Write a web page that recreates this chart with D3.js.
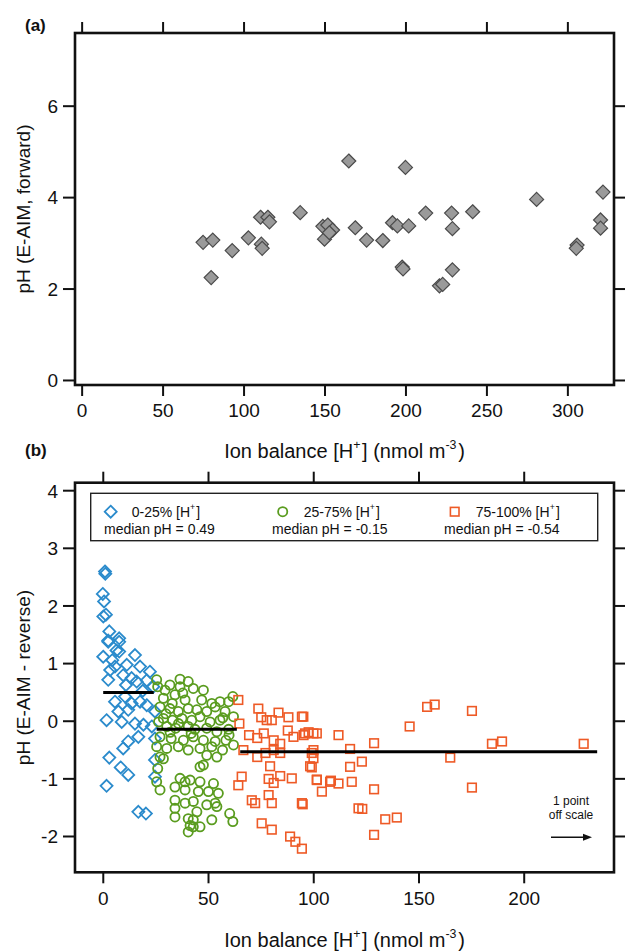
<!DOCTYPE html>
<html>
<head>
<meta charset="utf-8">
<script src="https://cdn.jsdelivr.net/npm/d3@7"></script>
<style>
  body { margin: 0; background: #fff; }
  svg { font-family: "Liberation Sans", Arial, sans-serif; }
</style>
</head>
<body>
<svg id="chart" width="625" height="951"></svg>
<script>
// panel (a): ion balance vs forward pH
const fwdX = [75, 81, 80, 93, 103, 111, 111.5, 110.5, 115, 116, 135, 149, 152, 155, 150, 153,
  165, 169, 176, 186, 192, 195, 202, 200, 198, 198.5, 212.5, 228.5, 229, 241.5, 229, 221, 223,
  281, 306, 305.5, 322, 320.5, 320.5];
const fwdPH = [3.01, 3.06, 2.24, 2.83, 3.11, 2.97, 2.88, 3.56, 3.56, 3.46, 3.66, 3.36, 3.39, 3.28, 3.08, 3.22,
  4.79, 3.33, 3.06, 3.05, 3.44, 3.37, 3.37, 4.65, 2.47, 2.43, 3.65, 3.65, 3.31, 3.68, 2.41, 2.06, 2.09,
  3.95, 2.95, 2.88, 4.11, 3.50, 3.32];

// panel (b): 0-25% group (diamonds)
const lowX = [1.05, 1.2, 0, 0.6, 1.5, 0.25, 3.1, 2.6, 7.8, 2.6, 7.8, 0.2, 7.8, 15.3, 5.8, 11.4, 17.7, 22.4,
  2.6, 9.7, 13.7, 16.1, 20.9, 24, 5.8, 10.6, 13.7, 17.7, 20.9, 7.4, 12.1, 24.8, 1.8, 9, 15.3, 19.3, 23.3,
  16.9, 12.1, 24.8, 9.7, 3.1, 24.8, 8.5, 12.1, 1.8, 24.8, 16.9, 20.5, 4.5, 6.5, 11, 19, 3.5];
const lowPH = [2.59, 2.55, 2.2, 2.07, 1.84, 1.81, 1.55, 1.39, 1.43, 1.37, 1.37, 1.11, 1.2, 1.14, 0.94, 0.97, 0.94, 0.85,
  0.71, 0.79, 0.74, 0.68, 0.70, 0.59, 0.33, 0.42, 0.30, 0.33, 0.27, 0.16, 0.19, 0.16, 0.01, -0.02, -0.05, -0.07, -0.10,
  -0.28, -0.36, -0.31, -0.48, -0.64, -0.68, -0.81, -0.94, -1.13, -0.97, -1.58, -1.61, 1.05, 1.22, 0.62, 0.52, 0.88];

// panel (b): 25-75% group (circles)
const midX = [25.6, 26.1, 29.6, 31.9, 36.7, 40.6, 36.7, 43, 47.8, 28.8, 34.3, 39.1, 47, 51.8, 55.7, 61.8, 59.8,
  27.2, 31.9, 35.9, 40.6, 44.7, 49.4, 53.4, 58.1, 62.1, 28.8, 33.1, 37.6, 42.3, 46.2, 51, 55.7,
  30.4, 34.6, 40.6, 43.8, 49.4, 54.2, 59.8, 27.2, 32.5, 38.3, 43, 47.8, 53.4, 58.5,
  25.6, 30.4, 35.9, 40.6, 46.2, 51.8, 56.9, 62.1, 27.2, 28.8, 49.4, 54.2, 47.8, 46.2, 26.1,
  25.6, 27.2, 36.7, 39.1, 41.5, 46.2, 52.6, 34.3, 39.1, 45.4, 50.2, 54.9, 34.3, 39.1, 43, 49.4,
  53.4, 54.2, 34.3, 40.6, 43, 51.8, 60.3, 61.8, 40.6, 41.5, 43, 46.2, 34.3, 44.7,
  33, 38, 30, 36, 42, 57, 60, 26.5, 32];
const midPH = [0.71, 0.59, 0.53, 0.62, 0.72, 0.68, 0.59, 0.56, 0.53, 0.39, 0.45, 0.36, 0.36, 0.30, 0.33, 0.42, 0.33,
  0.24, 0.21, 0.16, 0.21, 0.19, 0.16, 0.24, 0.16, 0.07, 0.04, 0.01, 0.04, 0.01, 0.07, -0.02, 0.01,
  -0.10, -0.13, -0.10, -0.15, -0.13, -0.19, -0.15, -0.28, -0.31, -0.34, -0.28, -0.34, -0.36, -0.34,
  -0.45, -0.48, -0.45, -0.51, -0.48, -0.45, -0.51, -0.42, -0.63, -0.66, -0.60, -0.63, -0.77, -0.80, -0.83,
  -1.06, -1.20, -1.00, -1.06, -1.03, -1.06, -1.09, -1.15, -1.20, -1.23, -1.23, -1.26, -1.38, -1.43, -1.40, -1.46,
  -1.43, -1.49, -1.67, -1.70, -1.72, -1.72, -1.61, -1.75, -1.93, -1.82, -1.84, -1.84, -1.52, -1.58,
  0.30, 0.48, 0.12, -0.05, -0.22, 0.05, -0.25, -0.02, -0.20];

// panel (b): 75-100% group (squares)
const highX = [64.4, 64.9, 73.9, 75.3, 77.9, 80.3, 83.5, 88.2, 94.6, 69.5, 73.4, 76.5, 81.2, 84.3, 87.9, 90.6,
  95.4, 97.8, 100.1, 101.7, 112, 66.8, 73.4, 77.3, 81.2, 84.3, 100.1, 100.1, 117.5, 117.5, 79.5, 98.5,
  66, 64.4, 78.8, 84.3, 89.8, 81.2, 101.7, 108, 112, 118.3, 70.8, 72.4, 78.8, 80.3, 94.6, 75.5, 80.3,
  89, 94.6, 121.5, 95.3, 96.1, 128.9, 145.8, 154.1, 157.7, 175.4, 165.1, 184.9, 189.7, 228.5, 175.4,
  99.3, 99.3, 123.1, 101.7, 108.4, 104.1, 128.9, 95, 123.3, 134.2, 139.7, 128.9, 91.5];
const highPH = [0.36, -0.05, 0.21, 0.06, 0.01, 0.01, 0.14, 0.06, 0.07, -0.25, -0.30, -0.22, -0.34, -0.40, -0.17, -0.28,
  -0.25, -0.20, -0.22, -0.22, -0.25, -0.51, -0.63, -0.56, -0.51, -0.56, -0.65, -0.51, -0.49, -0.80, -0.79, -0.79,
  -0.97, -1.12, -1.01, -0.96, -1.00, -1.08, -1.03, -1.06, -1.09, -1.06, -1.38, -1.43, -1.29, -1.43, -1.43, -1.78, -1.89,
  -2.01, -2.22, -1.52, 0.07, -0.22, -0.39, -0.10, 0.24, 0.28, 0.17, -0.64, -0.40, -0.36, -0.40, -1.16,
  -0.56, -0.81, -0.71, -1.02, -1.04, -1.23, -1.19, -1.45, -1.53, -1.71, -1.68, -1.98, -2.10];

// median lines for the three groups
const medianPH = [0.49, -0.15, -0.54];
const medianFrom = [0.2, 25.6, 65.3];
const medianTo = [24.2, 63.7, 234.9];

const xTicksA = [0, 50, 100, 150, 200, 250, 300];
const yTicksA = [0, 2, 4, 6];
const xTicksB = [0, 50, 100, 150, 200];
const yTicksB = [-2, -1, 0, 1, 2, 3, 4];

const svg = d3.select("#chart");

const blue = "#2b8bcc", green = "#5a9c1f", orange = "#ee5a26";

const xA = d3.scaleLinear().domain([-4.1, 328.8]).range([75, 614]);
const yA = d3.scaleLinear().domain([-0.11, 7.59]).range([385, 33]);
const xB = d3.scaleLinear().domain([-13.2, 242.9]).range([75, 614]);
const yB = d3.scaleLinear().domain([-2.63, 4.13]).range([872.3, 482.7]);

function diamond(r) {
    return `M0,${-r}L${r},0L0,${r}L${-r},0Z`;
}

// draws the frame and the mirrored tick marks of one panel
function drawFrame(x, y, xTicks, yTicks) {
    let [x0, x1] = x.range();
    let [y0, y1] = y.range();
    let plain = d => String(d);

    let bottom = svg.append("g").attr("transform", `translate(0,${y0})`)
        .call(d3.axisBottom(x).tickValues(xTicks).tickFormat(plain).tickSize(11).tickPadding(8));
    let top = svg.append("g").attr("transform", `translate(0,${y1})`)
        .call(d3.axisTop(x).tickValues(xTicks).tickSize(11).tickFormat(""));
    let left = svg.append("g").attr("transform", `translate(${x0},0)`)
        .call(d3.axisLeft(y).tickValues(yTicks).tickFormat(plain).tickSize(12).tickPadding(5));
    let right = svg.append("g").attr("transform", `translate(${x1},0)`)
        .call(d3.axisRight(y).tickValues(yTicks).tickSize(11).tickFormat(""));

    [bottom, top, left, right].forEach(function(g) {
        g.select(".domain").remove();
        g.selectAll(".tick line").attr("stroke", "#111").attr("stroke-width", 2);
        g.selectAll(".tick text").attr("fill", "#111").style("font-size", "19px");
    });
    left.selectAll(".tick text").attr("dy", "0.36em");

    svg.append("rect")
        .attr("x", x0).attr("y", y1)
        .attr("width", x1 - x0).attr("height", y0 - y1)
        .attr("fill", "none").attr("stroke", "#111").attr("stroke-width", 2.6);
}

// text with a superscript piece: parts = [[text, isSup], ...]
function richText(g, parts, size) {
    parts.forEach(function(p) {
        if (p[1]) {
            g.append("tspan").attr("dy", -size * 0.45).style("font-size", (size * 0.62) + "px").text(p[0]);
            g.append("tspan").attr("dy", size * 0.45).text("\u200a");
        } else {
            g.append("tspan").text(p[0]);
        }
    });
}

function xTitle(cx, baseline) {
    let t = svg.append("text")
        .attr("x", cx).attr("y", baseline)
        .attr("text-anchor", "middle")
        .attr("fill", "#111")
        .style("font-size", "20px");
    richText(t, [["Ion balance [H", false], ["+", true], ["] (nmol m", false], ["-3", true], [")", false]], 20);
}

function yTitle(cx, cy, label) {
    svg.append("text")
        .attr("transform", `translate(${cx},${cy}) rotate(-90)`)
        .attr("text-anchor", "middle")
        .attr("fill", "#111")
        .style("font-size", "19px")
        .text(label);
}

// ---- panel (a)
drawFrame(xA, yA, xTicksA, yTicksA);

svg.append("g").selectAll("path")
    .data(fwdX.map((d, i) => [d, fwdPH[i]]))
    .join("path")
    .attr("d", diamond(7))
    .attr("transform", d => `translate(${xA(d[0])},${yA(d[1])})`)
    .attr("fill", "#9a9a9a")
    .attr("stroke", "#4a4a4a")
    .attr("stroke-width", 1.2);

xTitle(344.5, 458);
yTitle(30, 209, "pH (E-AIM, forward)");

svg.append("text").attr("x", 25).attr("y", 31)
    .style("font-size", "17px").style("font-weight", "bold").attr("fill", "#111").text("(a)");

// ---- panel (b)
drawFrame(xB, yB, xTicksB, yTicksB);

svg.append("g").selectAll("path")
    .data(lowX.map((d, i) => [d, lowPH[i]]))
    .join("path")
    .attr("d", diamond(6))
    .attr("transform", d => `translate(${xB(d[0])},${yB(d[1])})`)
    .attr("fill", "none")
    .attr("stroke", blue)
    .attr("stroke-width", 1.8);

svg.append("g").selectAll("circle")
    .data(midX.map((d, i) => [d, midPH[i]]))
    .join("circle")
    .attr("cx", d => xB(d[0]))
    .attr("cy", d => yB(d[1]))
    .attr("r", 4.6)
    .attr("fill", "none")
    .attr("stroke", green)
    .attr("stroke-width", 1.8);

svg.append("g").selectAll("rect")
    .data(highX.map((d, i) => [d, highPH[i]]))
    .join("rect")
    .attr("x", d => xB(d[0]) - 4.3)
    .attr("y", d => yB(d[1]) - 4.3)
    .attr("width", 8.6)
    .attr("height", 8.6)
    .attr("fill", "none")
    .attr("stroke", orange)
    .attr("stroke-width", 1.6);

svg.append("g").selectAll("line")
    .data(medianPH)
    .join("line")
    .attr("x1", (d, i) => xB(medianFrom[i]))
    .attr("x2", (d, i) => xB(medianTo[i]))
    .attr("y1", d => yB(d))
    .attr("y2", d => yB(d))
    .attr("stroke", "#000")
    .attr("stroke-width", 3);

// legend
const legend = svg.append("g");
legend.append("rect")
    .attr("x", 90.7).attr("y", 493.3)
    .attr("width", 507).attr("height", 47.4)
    .attr("fill", "#fff").attr("stroke", "#222").attr("stroke-width", 1.4);

const legendLabels = ["0-25% [H", "25-75% [H", "75-100% [H"];
legendLabels.forEach(function(lab, i) {
    let mx = 110.7 + i * 172;
    let my = 511.7;
    if (i === 0) {
        legend.append("path").attr("d", diamond(6)).attr("transform", `translate(${mx},${my})`)
            .attr("fill", "none").attr("stroke", blue).attr("stroke-width", 1.8);
    } else if (i === 1) {
        legend.append("circle").attr("cx", mx).attr("cy", my).attr("r", 4.6)
            .attr("fill", "none").attr("stroke", green).attr("stroke-width", 1.8);
    } else {
        legend.append("rect").attr("x", mx - 4.3).attr("y", my - 4.3).attr("width", 8.6).attr("height", 8.6)
            .attr("fill", "none").attr("stroke", orange).attr("stroke-width", 1.6);
    }
    let t = legend.append("text").attr("x", mx + 21).attr("y", 516.7)
        .attr("fill", "#111").style("font-size", "14px");
    richText(t, [[lab, false], ["+", true], ["]", false]], 14);
    legend.append("text").attr("x", mx - 6.7 - (i === 0 ? 0 : 4)).attr("y", 533.5)
        .attr("fill", "#111").style("font-size", "14px")
        .text("median pH = " + medianPH[i].toFixed(2));
});

// off-scale note
svg.append("text").attr("x", 571).attr("y", 805).attr("text-anchor", "middle")
    .style("font-size", "12px").attr("fill", "#111").text("1 point");
svg.append("text").attr("x", 571).attr("y", 819).attr("text-anchor", "middle")
    .style("font-size", "12px").attr("fill", "#111").text("off scale");
svg.append("line").attr("x1", 551).attr("x2", 584).attr("y1", 837.3).attr("y2", 837.3)
    .attr("stroke", "#111").attr("stroke-width", 1.5);
svg.append("path").attr("d", "M592,837.3L583,833.8L583,840.8Z").attr("fill", "#111");

xTitle(344.5, 947);
yTitle(30, 677.5, "pH (E-AIM - reverse)");

svg.append("text").attr("x", 25).attr("y", 456)
    .style("font-size", "17px").style("font-weight", "bold").attr("fill", "#111").text("(b)");
</script>
</body>
</html>
